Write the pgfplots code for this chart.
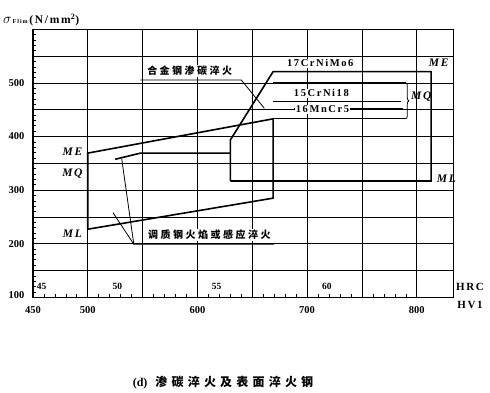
\documentclass[border=0pt]{standalone}
\usepackage{fontspec}
\setmainfont{Liberation Serif}
\newfontfamily\cjk[LetterSpace=25]{Noto Sans CJK SC}
\newfontfamily\cjkcap[LetterSpace=35]{Noto Sans CJK SC}
\newfontfamily\ls[LetterSpace=15]{Liberation Serif}
\usepackage{pgfplots}
\pgfplotsset{compat=1.18}
\usetikzlibrary{decorations.pathreplacing}
\begin{document}
\begin{tikzpicture}[x=1pt,y=1pt]
\path[use as bounding box] (0,0) rectangle (490,392);
\begin{axis}[
  at={(32.9pt,94.7pt)}, anchor=south west,
  scale only axis, width=420.1pt, height=268pt,
  xmin=450, xmax=833, ymin=100, ymax=600,
  xtick={450,500,...,800}, xticklabels={450,500,,600,,700,,800},
  ytick={100,150,...,600}, yticklabels={\raisebox{5pt}{100},,200,,300,,400,,500,,},
  minor x tick num=4, minor y tick num=4,
  xtick pos=bottom, ytick pos=left,
  tick align=inside,
  major tick length=0pt, minor tick length=3.5pt,
  grid=major, major grid style={black, line width=0.7pt},
  axis line style={black, line width=0.9pt},
  tick style={black, line width=0.6pt},
  /pgf/number format/assume math mode=true,
  ticklabel style={font=\bfseries\fontsize{10.5}{12}\selectfont},
  xticklabel style={yshift=-5.5pt},
  yticklabel style={xshift=-5pt},
  clip=false,
]
% flame / induction hardened region
\addplot[black, line width=1.6pt, no marks] coordinates {(500,227) (500,369) (669,433) (669,285) (500,227)};
\addplot[black, line width=1.6pt, no marks] coordinates {(525,357.5) (548,369) (630,369)};
% carburized alloy region
\addplot[black, line width=1.6pt, no marks] coordinates {(630,317) (630,393.5) (669,521) (813,521) (813,317) (630,317)};
\addplot[black, line width=1.3pt, no marks] coordinates {(669,500) (790,500)};
\addplot[black, line width=1.3pt, no marks] coordinates {(669,433) (790,433)};
\addplot[black, line width=1.1pt, no marks] coordinates {(669,466) (786,466)};
\addplot[black, line width=0.7pt, no marks] coordinates {(688,452) (787,452)};
% leaders
\addplot[black, line width=0.8pt, no marks] coordinates {(531,358) (542,199) (670,199)};
\addplot[black, line width=0.8pt, no marks] coordinates {(523,258) (542,199)};
\addplot[black, line width=0.8pt, no marks] coordinates {(548,505.4) (640,505.4) (661,452.6)};
\draw[black, line width=0.8pt, decorate, decoration={brace, amplitude=3pt}] (axis cs:790,500) -- (axis cs:790,433);
% labels
\node[font=\cjk\bfseries\fontsize{10}{12}\selectfont, fill=white, inner sep=1pt] at (axis cs:593,522) {合金钢渗碳淬火};
\node[font=\cjk\bfseries\fontsize{10}{12}\selectfont, fill=white, inner sep=1pt] at (axis cs:611,216) {调质钢火焰或感应淬火};
\node[font=\ls\bfseries\fontsize{10.5}{12}\selectfont, fill=white, inner sep=1pt] at (axis cs:712,536.6) {17CrNiMo6};
\node[font=\ls\bfseries\fontsize{10.5}{12}\selectfont, fill=white, inner sep=1pt] at (axis cs:713,480.6) {15CrNi18};
\node[font=\ls\bfseries\fontsize{10.5}{12}\selectfont, fill=white, inner sep=1pt] at (axis cs:714,450.7) {16MnCr5};
\node[font=\ls\bfseries\itshape\fontsize{11.5}{13}\selectfont] at (axis cs:820,537.7) {ME};
\node[font=\ls\bfseries\itshape\fontsize{11.5}{13}\selectfont] at (axis cs:804,474) {MQ};
\node[font=\ls\bfseries\itshape\fontsize{11.5}{13}\selectfont] at (axis cs:827,322) {ML};
\node[font=\ls\bfseries\itshape\fontsize{11.5}{13}\selectfont] at (axis cs:486,371.6) {ME};
\node[font=\ls\bfseries\itshape\fontsize{11.5}{13}\selectfont] at (axis cs:486,331) {MQ};
\node[font=\ls\bfseries\itshape\fontsize{11.5}{13}\selectfont] at (axis cs:486,219.4) {ML};
\node[font=\bfseries\fontsize{9.5}{11}\selectfont] at (axis cs:458,120) {45};
\node[font=\bfseries\fontsize{9.5}{11}\selectfont] at (axis cs:527,121) {50};
\node[font=\bfseries\fontsize{9.5}{11}\selectfont] at (axis cs:617.6,121) {55};
\node[font=\bfseries\fontsize{9.5}{11}\selectfont] at (axis cs:718,121) {60};
\end{axis}
\node[anchor=west, inner sep=0pt] at (3,372) {{\Large$\sigma$}{\bfseries\fontsize{6}{7}\selectfont\,F\,l\,i\,m}\,{\ls\bfseries\fontsize{11.5}{13}\selectfont (N/mm$^{\mathbf 2}$)}};
\node[font=\ls\bfseries\fontsize{11}{13}\selectfont] at (470,105) {HRC};
\node[font=\ls\bfseries\fontsize{11}{13}\selectfont] at (470,87) {HV1};
\node[font=\bfseries\fontsize{12}{14}\selectfont] at (223,9.5) {(d)\hspace{8pt}{\cjkcap\bfseries 渗碳淬火及表面淬火钢}};
\end{tikzpicture}
\end{document}
